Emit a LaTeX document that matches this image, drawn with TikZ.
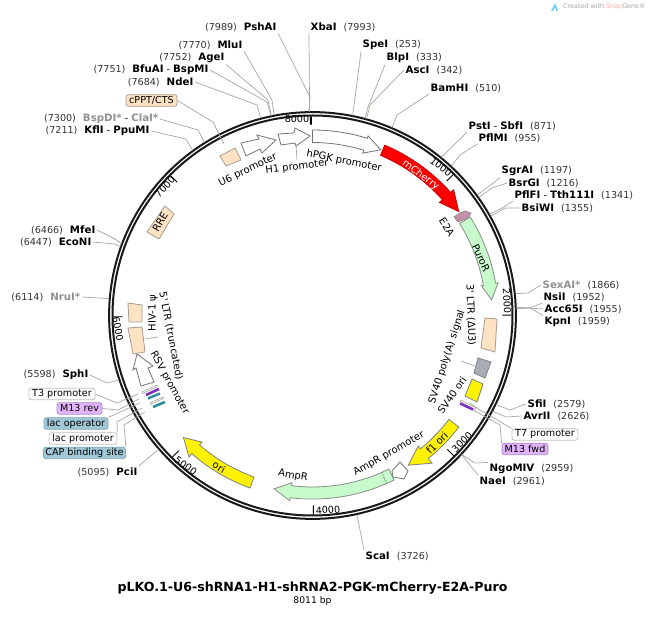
\documentclass[tikz,border=0pt]{standalone}
\usepackage{fontspec}
\setmainfont[Ligatures=TeXOff]{DejaVu Sans}
\definecolor{leadc}{HTML}{A8A69E}
\definecolor{numc}{HTML}{333333}
\definecolor{grayname}{HTML}{909090}
\definecolor{peach}{HTML}{FDE2C4}
\definecolor{peachb}{HTML}{A89C90}
\definecolor{greenf}{HTML}{C8FBCB}
\definecolor{tealf}{HTML}{A0C8D6}
\definecolor{tealb}{HTML}{7CA8B8}
\definecolor{tealbar}{HTML}{2E8CA0}
\definecolor{purbar}{HTML}{8030C0}
\definecolor{purf}{HTML}{E0B4FA}
\definecolor{purb}{HTML}{B088D0}
\definecolor{slatef}{HTML}{A8ACB4}
\definecolor{pinkf}{HTML}{C890A8}
\tikzset{
  elab/.style={inner sep=1.5pt,font=\fontsize{9.6}{11}\selectfont},
  lead/.style={draw=leadc,line width=0.7pt},
  tlab/.style={inner sep=0pt,font=\fontsize{9.6}{11}\selectfont},
  flab/.style={inner sep=0pt,font=\fontsize{10}{12}\selectfont},
  fbox/.style={draw=peachb,fill=peach,line width=0.8pt,line join=round},
  farrow/.style={draw=#1,line width=0.8pt,line join=miter},
  pill/.style={rounded corners=2.5pt,inner sep=0pt,minimum height=11.5pt,font=\fontsize{9.6}{11}\selectfont,line width=0.8pt},
  whitepill/.style={pill,draw=black!25,fill=white},
  tealpill/.style={pill,draw=tealb,fill=tealf},
  purpill/.style={pill,draw=purb,fill=purf},
  whitebar/.style={draw=leadc,fill=white,line width=0.6pt},
}
\newcommand{\bd}[1]{{\fontsize{10.2}{11}\selectfont\textbf{#1}}}
\newcommand{\gbd}[1]{\textcolor{grayname}{\bd{#1}}}
% id, position, number, name, start anchor, elbow piece, bp
\newcommand{\enzL}[7]{%
  \node[elab,anchor=east] (#1) at (#2) {\textcolor{numc}{(#3)}\hspace{7pt}#4};
  \coordinate (#1r) at ({312.5+204*sin(0.0449382*#7)},{315.5-204*cos(0.0449382*#7)});
  \draw[lead] (#1.#5) #6 -- (#1r);}
\newcommand{\enzR}[7]{%
  \node[elab,anchor=west] (#1) at (#2) {#4\hspace{7pt}\textcolor{numc}{(#3)}};
  \coordinate (#1r) at ({312.5+204*sin(0.0449382*#7)},{315.5-204*cos(0.0449382*#7)});
  \draw[lead] (#1.#5) #6 -- (#1r);}
% style, tail, neck, tip, rin, rout, barbin, barbout
\newcommand{\arcarrow}[8]{%
  \draw[#1] plot[domain=#2:#3,samples=24] ({\x-90}:#6) -- ({#3-90}:#8) -- ({#4-90}:{(#5+#6)/2}) -- ({#3-90}:#7) -- plot[domain=#3:#2,samples=24] ({\x-90}:#5) -- cycle;}
\begin{document}
\begin{tikzpicture}[x=1pt,y=-1pt]
\useasboundingbox (0,0) rectangle (649,636);
\fill[white] (0,0) rectangle (649,636);
% credit
\fill[blue!30!cyan!60] (551,11) -- (555,3) -- (558,11) -- (556,11) -- (555,7) -- (553,11) -- cycle;
\node[inner sep=0pt,anchor=west,font=\fontsize{6.4}{8}\selectfont,text=black!35] (credit) at (563,7) {Created with \textcolor{red!35}{Snap}Gene®};
% ring
\begin{scope}[shift={(312.5,315.5)}]
\draw[line width=2pt,black!90] (0,0) circle (203.4);
\draw[line width=2pt,black!90] (0,0) circle (200);
\foreach \bp in {1000,2000,3000,4000,5000,6000,7000}
  \draw[line width=0.9pt] ({0.0449382*\bp-90}:199) -- ({0.0449382*\bp-90}:190);
\draw[line width=2pt] ({0.0449382*8000-90}:199) -- ({0.0449382*8000-90}:191);
% arrows
\arcarrow{farrow=black!55,fill=white}{0}{17.2}{22.4}{173}{185.5}{170}{188}
\arcarrow{farrow=black!60,fill=red,draw=red!80!black}{23}{48.3}{54.6}{174}{185}{170}{189}
\arcarrow{farrow=black!45,fill=greenf}{58}{80}{85}{173.5}{186}{171.5}{188.5}
\arcarrow{farrow=black!50,fill=yellow}{127.3}{141}{147.4}{171.5}{184}{168}{190}
\arcarrow{farrow=black!45,fill=greenf}{153.6}{187}{192.5}{171.5}{183.6}{168.5}{186.7}
\arcarrow{farrow=black!50,fill=yellow}{199.9}{221.1}{226.6}{171.8}{183.5}{168}{187.8}
\draw[densely dotted,black!70,line width=0.7pt] ({156.2-90}:171.5) -- ({156.2-90}:183.6);
\end{scope}
% plain promoter arrows
\draw[farrow=black!55,fill=white] (241,143) -- (259,139) -- (257,135) -- (276,140) -- (262,153) -- (260,149) -- (246,156) -- cycle;
\draw[farrow=black!55,fill=white] (278,134) -- (294,133) -- (295,128) -- (310,136) -- (296,146) -- (295,143) -- (281,145) -- cycle;
\draw[farrow=black!55,fill=white] (137,354) -- (153,366) -- (148,368) -- (154,382) -- (141,386) -- (136,368) -- (133,370) -- cycle;
\draw[farrow=black!55,fill=white] (392,471) -- (400,462) -- (408,471) -- (404,479) -- (393,477) -- cycle;
% boxes
\draw[fbox] (220,156) -- (235,148) -- (241,160) -- (226,166) -- cycle;
\draw[fbox] (165,206) -- (174,214) -- (159,239) -- (147,232) -- cycle;
\draw[fbox] (128,303) -- (142,305) -- (142,322) -- (129,322) -- cycle;
\draw[fbox] (128,328) -- (142,327) -- (145,352) -- (133,354) -- cycle;
\draw[fbox] (485,318) -- (497,319) -- (495,352) -- (481,348) -- cycle;
\draw[draw=black!50,fill=slatef,line width=0.8pt] (478,358) -- (491,362) -- (485,378) -- (474,373) -- cycle;
\draw[draw=black!50,fill=yellow,line width=0.8pt] (472,379) -- (483,384) -- (477,402) -- (465,396) -- cycle;
\draw[draw=black!45,fill=pinkf,line width=0.7pt] (454,217) -- (460,213) -- (465,211) -- (471,213) -- (468,218) -- (458,222) -- cycle;
% small features left
\draw[whitebar] (142,392) -- (157,385) -- (157.5,386.5) -- (142.5,393.5) -- cycle;
\draw[line width=2.6pt,draw=purbar] (146,395) -- (159,389);
\draw[line width=2.4pt,draw=tealbar] (148,398.5) -- (160,393.5);
\draw[whitebar] (150,403) -- (163,397) -- (163.5,398.5) -- (150.5,404.5) -- cycle;
\draw[line width=2.6pt,draw=tealbar] (153,407) -- (165,402);
% small features right
\draw[whitebar] (461,400) -- (476,408) -- (475,409.5) -- (460,401.5) -- cycle;
\draw[line width=2.5pt,draw=purbar] (460,403.5) -- (473,409.5);
% feature labels
\node[flab,rotate=26] (u6) at (248,170) {U6 promoter};
\node[flab,rotate=7] (h1) at (297,167) {H1 promoter};
\node[flab,rotate=-11] (hpgk) at (344,161) {hPGK promoter};
\node[flab,rotate=-37,text=white] (mch) at (420.7,175) {mCherry};
\node[flab,rotate=-58] (e2a) at (447,227) {E2A};
\node[flab,rotate=-65] (puror) at (481,258) {PuroR};
\node[flab,rotate=-88] (ltr3) at (470.7,315) {3' LTR (ΔU3)};
\node[flab,rotate=72] (sv40pa) at (447,357) {SV40 poly(A) signal};
\node[flab,rotate=55] (sv40o) at (452,395) {SV40 ori};
\node[flab,rotate=45] (f1) at (437,443) {f1 ori};
\node[flab,rotate=29.5] (amppr) at (389,454) {AmpR promoter};
\node[flab,rotate=-10] (ampr) at (293,476) {AmpR};
\node[flab,rotate=-30] (orif) at (219,467) {ori};
\node[flab,rotate=-79] (ltr5) at (171,336) {5' LTR (truncated)};
\node[flab,rotate=90] (psi) at (153,313) {HIV-1 ψ};
\node[flab,rotate=-61] (rsv) at (169.5,383) {RSV promoter};
\node[flab,rotate=60] (rre) at (160,222) {RRE};
% ticks labels
\node[tlab] (t8) at (297,119) {8000};
\node[tlab,rotate=-38] (t1) at (441,167) {1000};
\node[tlab,rotate=47] (t7) at (165,187) {7000};
\node[tlab,rotate=-87] (t2) at (507,301) {2000};
\node[tlab,rotate=45] (t3) at (462,442) {3000};
\node[tlab,rotate=4] (t4) at (328,510) {4000};
\node[tlab,rotate=-35] (t5) at (186,466) {5000};
\node[tlab,rotate=-80] (t6) at (118,329) {6000};
% enzymes, left side
\enzL{pshai}{278,27}{7989}{\bd{PshAI}}{south east}{-- (310,97)}{7989}
\enzL{mlui}{244,45}{7770}{\bd{MluI}}{south east}{-- (272,100)}{7770}
\enzL{agei}{226,58}{7752}{\bd{AgeI}}{south east}{-- (268,100)}{7752}
\enzL{bfu}{210,70}{7751}{\bd{BfuAI} - \bd{BspMI}}{east}{-- (267,102)}{7751}
\enzL{ndei}{195,82}{7684}{\bd{NdeI}}{east}{-- (257,105)}{7684}
\enzL{bsp}{160,119}{7300}{\gbd{BspDI*} - \gbd{ClaI*}}{east}{-- (198,130)}{7300}
\enzL{kfl}{151,131}{7211}{\bd{KflI} - \bd{PpuMI}}{east}{-- (186,139)}{7211}
\enzL{mfe}{97,230}{6466}{\bd{MfeI}}{east}{-- (115,239)}{6466}
\enzL{eco}{93,242}{6447}{\bd{EcoNI}}{east}{-- (115,244)}{6447}
\enzL{nru}{82,297}{6114}{\gbd{NruI*}}{east}{}{6114}
\enzL{sph}{90,375}{5598}{\bd{SphI}}{east}{-- (107,383)}{5598}
\enzL{pci}{139,472}{5095}{\bd{PciI}}{north east}{}{5095}
% enzymes, right side
\enzR{xba}{309,27}{7993}{\bd{XbaI}}{south west}{}{7993}
\enzR{spe}{361,45}{253}{\bd{SpeI}}{south west}{}{253}
\enzR{blp}{385,58}{333}{\bd{BlpI}}{south west}{-- (368,107)}{333}
\enzR{asc}{404,70}{342}{\bd{AscI}}{west}{-- (370,105)}{342}
\enzR{bam}{429,88}{510}{\bd{BamHI}}{south west}{-- (397,115)}{510}
\enzR{pst}{467,126}{871}{\bd{PstI} - \bd{SbfI}}{south west}{}{871}
\enzR{pfm}{477,138}{955}{\bd{PflMI}}{south west}{-- (460,155)}{955}
\enzR{sgr}{500,171}{1197}{\bd{SgrAI}}{south west}{-- (488,187)}{1197}
\enzR{bsr}{507,183}{1216}{\bd{BsrGI}}{west}{-- (492,188)}{1216}
\enzR{pff}{513,195}{1341}{\bd{PflFI} - \bd{Tth111I}}{south west}{-- (502,208)}{1341}
\enzR{bsi}{520,208}{1355}{\bd{BsiWI}}{west}{-- (505,208)}{1355}
\enzR{sex}{541,285}{1866}{\gbd{SexAI*}}{west}{-- (528,293)}{1866}
\enzR{nsi}{542,297}{1952}{\bd{NsiI}}{south west}{-- (530,308)}{1952}
\enzR{acc}{543,309}{1955}{\bd{Acc65I}}{west}{-- (530,308)}{1955}
\enzR{kpn}{543,322}{1959}{\bd{KpnI}}{north west}{-- (530,308)}{1959}
\enzR{sfi}{526,404}{2579}{\bd{SfiI}}{west}{-- (510,410)}{2579}
\enzR{avr}{522,416}{2626}{\bd{AvrII}}{west}{-- (506,417)}{2626}
\enzR{ngo}{488,469}{2959}{\bd{NgoMIV}}{north west}{-- (475,463)}{2959}
\enzR{nae}{478,481}{2961}{\bd{NaeI}}{north west}{}{2961}
\enzR{sca}{364,556}{3726}{\bd{ScaI}}{north west}{}{3726}
% feature pills
\node[pill,draw=peachb,fill=peach,minimum width=51pt] (cppt) at (151.5,100.5) {cPPT/CTS};
\node[whitepill,minimum width=66pt] (t3p) at (62,394) {T3 promoter};
\node[purpill,minimum width=45pt] (m13r) at (79.5,408.5) {M13 rev};
\node[tealpill,minimum width=64pt] (lacop) at (76,423.5) {lac operator};
\node[whitepill,minimum width=68pt] (lacp) at (83,438.5) {lac promoter};
\node[tealpill,minimum width=82pt] (cap) at (84.5,453) {CAP binding site};
\node[whitepill,minimum width=66pt] (t7p) at (545,434.5) {T7 promoter};
\node[purpill,minimum width=46pt] (m13f) at (525,449) {M13 fwd};
% feature leaders
\coordinate (cpptEnd) at (224,144);
\draw[lead] (cppt.east) -- (213,122) -- (cpptEnd);
\coordinate (t3End) at (138,394);
\draw[lead] (t3p.east) -- (117,403) -- (t3End);
\coordinate (m13rEnd) at (139,399);
\draw[lead] (m13r.east) -- (118,410) -- (m13rEnd);
\coordinate (lacopEnd) at (140,403);
\draw[lead] (lacop.north east) -- (lacopEnd);
\coordinate (lacpEnd) at (142,408);
\draw[lead] (lacp.north east) -- (117,422) -- (lacpEnd);
\coordinate (capEnd) at (145,412);
\draw[lead] (cap.north east) -- (124,425) -- (capEnd);
\coordinate (t7End) at (470,403);
\draw[lead] (t7p.north west) -- (480,410) -- (t7End);
\coordinate (m13fEnd) at (473,410);
\draw[lead] (m13f.north west) -- (500,425) -- (m13fEnd);
\coordinate (h1a) at (296,145);
\coordinate (h1b) at (297,160);
\draw[lead] (h1a) -- (h1b);
\coordinate (psia) at (145,339);
\coordinate (psib) at (158,337);
\draw[lead] (psia) -- (psib);
\coordinate (sva) at (475,366);
\coordinate (svb) at (461,361);
\draw[lead] (sva) -- (svb);
% title
\node[inner sep=0pt,font=\bfseries\fontsize{12.6}{14}\selectfont] (title) at (312.5,588) {pLKO.1-U6-shRNA1-H1-shRNA2-PGK-mCherry-E2A-Puro};
\node[inner sep=0pt,font=\fontsize{9.2}{11}\selectfont] (size) at (312.5,601) {8011 bp};
\end{tikzpicture}
\end{document}
